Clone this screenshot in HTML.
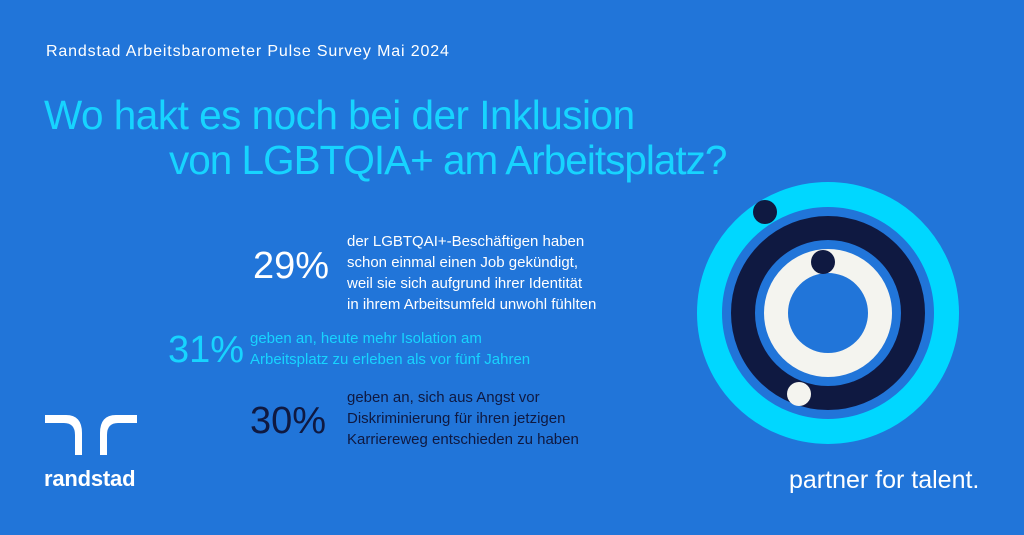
<!DOCTYPE html>
<html><head><meta charset="utf-8"><style>
body{margin:0;width:1024px;height:535px;background:#2175d9;position:relative;overflow:hidden;font-family:"Liberation Sans",sans-serif}
.t{position:absolute;white-space:nowrap}
</style></head><body>
<div class="t" style="left:46px;top:43px;font-size:16px;color:#fff;letter-spacing:0.85px">Randstad Arbeitsbarometer Pulse Survey Mai 2024</div>
<div class="t" style="left:44px;top:92px;font-size:40.5px;color:#17d4ff;letter-spacing:-0.5px;line-height:46px">Wo hakt es noch bei der Inklusion</div>
<div class="t" style="left:169px;top:137px;font-size:40.5px;color:#17d4ff;letter-spacing:-1px;line-height:46px">von LGBTQIA+ am Arbeitsplatz?</div>

<div class="t" style="left:253px;top:245px;font-size:38px;color:#fff">29%</div>
<div class="t" style="left:347px;top:231px;font-size:15px;color:#fff;line-height:21px">der LGBTQAI+-Beschäftigen haben<br>schon einmal einen Job gekündigt,<br>weil sie sich aufgrund ihrer Identität<br>in ihrem Arbeitsumfeld unwohl fühlten</div>

<div class="t" style="left:168px;top:329px;font-size:38px;color:#17d4ff">31%</div>
<div class="t" style="left:250px;top:328px;font-size:15px;color:#17d4ff;line-height:21px">geben an, heute mehr Isolation am<br>Arbeitsplatz zu erleben als vor fünf Jahren</div>

<div class="t" style="left:250px;top:400px;font-size:38px;color:#0f1941">30%</div>
<div class="t" style="left:347px;top:387px;font-size:15px;color:#0f1941;line-height:21px">geben an, sich aus Angst vor<br>Diskriminierung für ihren jetzigen<br>Karriereweg entschieden zu haben</div>

<svg style="position:absolute;left:0;top:0" width="1024" height="535">
<circle cx="828" cy="313" r="118.5" fill="none" stroke="#00d7ff" stroke-width="25"/>
<circle cx="828" cy="313" r="85" fill="none" stroke="#0f1941" stroke-width="24"/>
<circle cx="828" cy="313" r="52" fill="none" stroke="#f4f4ef" stroke-width="24"/>
<circle cx="765" cy="212" r="12" fill="#0f1941"/>
<circle cx="823" cy="262" r="12" fill="#0f1941"/>
<circle cx="799" cy="394" r="12" fill="#f4f4ef"/>
<path d="M45 415 H66 Q82 415 82 433 V455 H75 V435 Q75 423 64 423 H45 Z" fill="#fff"/>
<path d="M137 415 H116 Q100 415 100 433 V455 H107 V435 Q107 423 118 423 H137 Z" fill="#fff"/>
</svg>
<div class="t" style="left:44px;top:466px;font-size:22px;color:#fff;font-weight:bold;letter-spacing:-0.2px">randstad</div>
<div class="t" style="left:789px;top:466px;font-size:25px;color:#fff">partner for talent.</div>
</body></html>
